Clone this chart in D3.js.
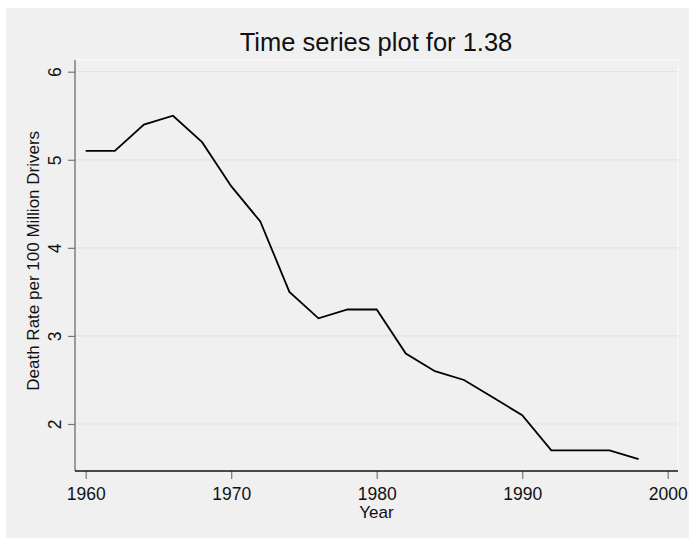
<!DOCTYPE html>
<html>
<head>
<meta charset="utf-8">
<script src="https://cdn.jsdelivr.net/npm/d3@7"></script>
<style>
html,body{margin:0;padding:0;background:#ffffff;}
svg{display:block;}
text{font-family:"Liberation Sans",Arial,sans-serif;fill:#111;}
</style>
</head>
<body>
<script>
const years = [1960,1962,1964,1966,1968,1970,1972,1974,1976,1978,1980,1982,1984,1986,1988,1990,1992,1994,1996,1998];
const deathRate = [5.1,5.1,5.4,5.5,5.2,4.7,4.3,3.5,3.2,3.3,3.3,2.8,2.6,2.5,2.3,2.1,1.7,1.7,1.7,1.6];
const xTicks = [1960,1970,1980,1990,2000];
const yTicks = [2,3,4,5,6];
const titleText = "Time series plot for 1.38";
const xTitle = "Year";
const yTitle = "Death Rate per 100 Million Drivers";

const W = 689, H = 538;
const plot = {left:75, top:60, right:678, bottom:471};

const svg = d3.select("body").append("svg").attr("width",W).attr("height",H);

svg.append("rect").attr("x",6).attr("y",8).attr("width",W-6).attr("height",H-8).attr("fill","#f0f0f0");

const x = d3.scaleLinear().domain([1960,2000]).range([85.7,667.7]);
const y = d3.scaleLinear().domain([2,6]).range([424,71.7]);

// plot region outline
svg.append("rect").attr("x",plot.left).attr("y",plot.top)
  .attr("width",plot.right-plot.left).attr("height",plot.bottom-plot.top)
  .attr("fill","#f0f0f0").attr("stroke","#fbfbfb").attr("stroke-width",1);

// gridlines
svg.append("g").selectAll("line").data(yTicks).join("line")
  .attr("x1",plot.left).attr("x2",plot.right)
  .attr("y1",d=>y(d)).attr("y2",d=>y(d))
  .attr("stroke","#e3e3e3").attr("stroke-width",1.2);

// y axis
const yAxis = d3.axisLeft(y).tickValues(yTicks).tickSize(7).tickPadding(0).tickFormat(d3.format("d"));
const gy = svg.append("g").attr("transform",`translate(${plot.left},0)`).call(yAxis);
gy.select(".domain").remove();
gy.selectAll(".tick line").attr("stroke","#777").attr("stroke-width",1.2);
gy.selectAll(".tick text")
  .attr("x",0).attr("y",0).attr("dy",null)
  .attr("transform","translate(-14.5,0) rotate(-90)")
  .attr("text-anchor","middle")
  .style("font-size","17.5px").style("font-family","'Liberation Sans',Arial,sans-serif").attr("fill","#111");
svg.append("line").attr("x1",plot.left).attr("x2",plot.left)
  .attr("y1",plot.top).attr("y2",plot.bottom)
  .attr("stroke","#6a6a6a").attr("stroke-width",1.3);

// x axis
const xAxis = d3.axisBottom(x).tickValues(xTicks).tickSize(8).tickPadding(0).tickFormat(d3.format("d"));
const gx = svg.append("g").attr("transform",`translate(0,${plot.bottom})`).call(xAxis);
gx.select(".domain").remove();
gx.selectAll(".tick line").attr("stroke","#777").attr("stroke-width",1.2);
gx.selectAll(".tick text").attr("y",29).attr("dy",null)
  .style("font-size","17.5px").style("font-family","'Liberation Sans',Arial,sans-serif").attr("fill","#111");
svg.append("line").attr("x1",plot.left).attr("x2",plot.right)
  .attr("y1",plot.bottom).attr("y2",plot.bottom)
  .attr("stroke","#111").attr("stroke-width",1.3);

// line
const line = d3.line().x((d,i)=>x(years[i])).y(d=>y(d));
svg.append("path").datum(deathRate).attr("d",line)
  .attr("fill","none").attr("stroke","#000").attr("stroke-width",1.8).attr("stroke-linejoin","miter");

// titles
svg.append("text").attr("x",376).attr("y",50.5).attr("text-anchor","middle")
  .style("font-size","25.5px").text(titleText);
svg.append("text").attr("x",376.5).attr("y",517.5).attr("text-anchor","middle")
  .style("font-size","17px").text(xTitle);
svg.append("text").attr("transform","translate(39,260.8) rotate(-90)").attr("text-anchor","middle")
  .style("font-size","17px").text(yTitle);
</script>
</body>
</html>
